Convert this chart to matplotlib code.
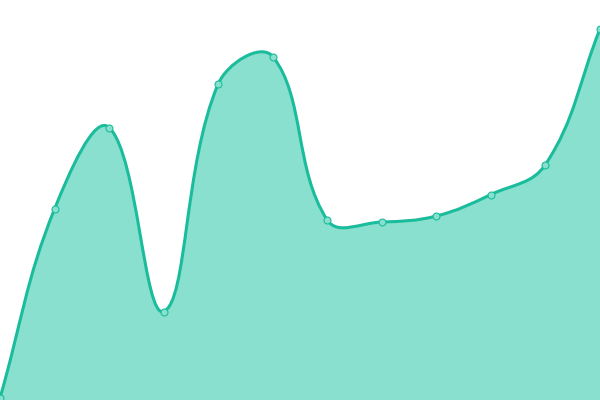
import matplotlib
matplotlib.use('Agg')
import matplotlib.pyplot as plt
import numpy as np
from matplotlib.path import Path
from matplotlib.patches import PathPatch

# data (index along x, value along y)
labels = list(range(12))
values = [2, 191, 272.5, 88.5, 316, 343.5, 180, 178, 184, 205.5, 235.5, 371]

line_color = '#1abc9c'
fill_color = '#8ae0cf'
tension = 0.4

fig = plt.figure(figsize=(6, 4), dpi=100)
ax = fig.add_axes([0, 0, 1, 1])
ax.set_xlim(0, len(labels) - 1)
ax.set_ylim(0, 400)
ax.axis('off')

# spline control points computed in pixel space (chart.js style)
pts = ax.transData.transform(np.column_stack([labels, values]))
n = len(pts)
ctrl_prev = np.zeros_like(pts)
ctrl_next = np.zeros_like(pts)
for i in range(n):
    p = pts[max(i - 1, 0)]
    c = pts[i]
    nx = pts[min(i + 1, n - 1)]
    d01 = np.hypot(*(c - p))
    d12 = np.hypot(*(nx - c))
    tot = d01 + d12
    s01 = d01 / tot if tot else 0
    s12 = d12 / tot if tot else 0
    ctrl_prev[i] = c - tension * s01 * (nx - p)
    ctrl_next[i] = c + tension * s12 * (nx - p)
# keep control points inside the area
ctrl_prev[:, 1] = np.clip(ctrl_prev[:, 1], 0, 400)
ctrl_next[:, 1] = np.clip(ctrl_next[:, 1], 0, 400)
ctrl_prev[:, 0] = np.clip(ctrl_prev[:, 0], 0, 600)
ctrl_next[:, 0] = np.clip(ctrl_next[:, 0], 0, 600)

inv = ax.transData.inverted()
verts = [pts[0]]
codes = [Path.MOVETO]
for i in range(n - 1):
    verts += [ctrl_next[i], ctrl_prev[i + 1], pts[i + 1]]
    codes += [Path.CURVE4] * 3
verts = inv.transform(np.array(verts))

fill_verts = np.vstack([verts, [[labels[-1], 0], [labels[0], 0], verts[0]]])
fill_codes = codes + [Path.LINETO, Path.LINETO, Path.CLOSEPOLY]
ax.add_patch(PathPatch(Path(fill_verts, fill_codes), facecolor=fill_color,
                       edgecolor='none', zorder=1))
ax.add_patch(PathPatch(Path(verts, codes), facecolor='none',
                       edgecolor=line_color, linewidth=2.2, zorder=2,
                       capstyle='round', joinstyle='round'))
ax.plot(labels, values, 'o', markersize=5, markerfacecolor=fill_color,
        markeredgecolor=line_color, markeredgewidth=0.8, zorder=3, clip_on=False)

fig.savefig('out.png', dpi=100)
